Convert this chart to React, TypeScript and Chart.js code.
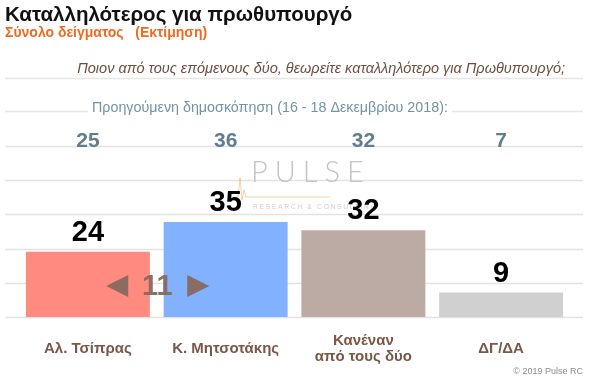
import React, { useEffect, useRef } from "react";
import { Chart, registerables } from "chart.js";

Chart.register(...registerables);

const categories: string[][] = [["Αλ. Τσίπρας"], ["Κ. Μητσοτάκης"], ["Κανέναν", "από τους δύο"], ["ΔΓ/ΔΑ"]];
const currentValues = [24, 35, 32, 9];
const previousValues = [25, 36, 32, 7];
const barColors = ["#ff8a80", "#82b1ff", "#bcaaa4", "#d0d0d0"];
const titleText = "Καταλληλότερος για πρωθυπουργό";
const subtitleText = "Σύνολο δείγματος   (Εκτίμηση)";
const questionText = "Ποιον από τους επόμενους δύο, θεωρείτε καταλληλότερο για Πρωθυπουργό;";
const previousLabel = "Προηγούμενη δημοσκόπηση (16 - 18 Δεκεμβρίου 2018):";
const copyrightText = "© 2019 Pulse RC";
const yMax = 63;
const gridCount = 5;

const FONT = '"Liberation Sans", Arial, sans-serif';

const decorPlugin = {
  id: "decor",
  beforeDatasetsDraw(chart: any) {
    const ctx = chart.ctx;
    const y = chart.scales.y;
    const L = 5, R = 583;
    ctx.save();
    ctx.strokeStyle = "#e3e3e3";
    ctx.lineWidth = 1.5;
    for (let i = 0; i <= gridCount; i++) {
      const py = Math.round(y.getPixelForValue((yMax / gridCount) * i)) + 0.5;
      ctx.beginPath();
      ctx.moveTo(L, py);
      ctx.lineTo(R, py);
      ctx.stroke();
    }
    // watermark
    ctx.fillStyle = "#c4c4c4";
    ctx.font = `300 29px Lato, ${FONT}`;
    (ctx as any).letterSpacing = "7px";
    ctx.textAlign = "left";
    ctx.textBaseline = "alphabetic";
    ctx.fillText("PULSE", 251, 182);
    ctx.font = `7px ${FONT}`;
    (ctx as any).letterSpacing = "1.5px";
    ctx.fillStyle = "#d0d0d0";
    ctx.fillText("RESEARCH & CONSULTING", 253, 209);
    (ctx as any).letterSpacing = "0px";
    ctx.strokeStyle = "rgba(245,170,90,0.55)";
    ctx.lineWidth = 1;
    ctx.beginPath();
    ctx.moveTo(233, 197);
    ctx.lineTo(238, 197);
    ctx.lineTo(240, 178);
    ctx.lineTo(242, 200);
    ctx.lineTo(244, 190);
    ctx.lineTo(246, 197);
    ctx.lineTo(330, 197);
    ctx.stroke();
    ctx.restore();
  },
  afterDraw(chart: any) {
    const ctx = chart.ctx;
    const area = chart.chartArea;
    const meta = chart.getDatasetMeta(0);
    ctx.save();
    ctx.textBaseline = "alphabetic";
    // title
    ctx.fillStyle = "#111";
    ctx.font = `bold 20.5px ${FONT}`;
    ctx.textAlign = "left";
    ctx.fillText(titleText, 5, 21);
    ctx.fillStyle = "#f06a1e";
    ctx.font = `bold 14px ${FONT}`;
    ctx.fillText(subtitleText, 5, 37);
    // question
    ctx.fillStyle = "#6e4e3e";
    ctx.font = `italic 14.5px ${FONT}`;
    ctx.textAlign = "right";
    ctx.fillText(questionText, 565, 73);
    ctx.strokeStyle = "#e6e6e6";
    ctx.lineWidth = 1.5;
    ctx.beginPath();
    ctx.moveTo(5, 78.5);
    ctx.lineTo(583, 78.5);
    ctx.stroke();
    // previous label
    ctx.fillStyle = "#7193a8";
    ctx.font = `14.3px ${FONT}`;
    ctx.textAlign = "left";
    ctx.fillText(previousLabel, 92, 112);
    const w = ctx.measureText(previousLabel).width;
    ctx.beginPath();
    ctx.moveTo(5, 111.5);
    ctx.lineTo(88, 111.5);
    ctx.moveTo(92 + w + 4, 111.5);
    ctx.lineTo(583, 111.5);
    ctx.stroke();
    // previous values & current values
    ctx.textAlign = "center";
    meta.data.forEach((bar: any, i: number) => {
      ctx.fillStyle = "#5f7e8e";
      ctx.font = `bold 21px ${FONT}`;
      ctx.fillText(String(previousValues[i]), bar.x, area.top + 1);
      ctx.fillStyle = "#000";
      ctx.font = `bold 29px ${FONT}`;
      ctx.fillText(String(currentValues[i]), bar.x, bar.y - 11);
    });
    // gap indicator between first two bars
    const b0 = meta.data[0], b1 = meta.data[1];
    const cx = (b0.x + b1.x) / 2 + 0.5;
    const cy = 286;
    const gap = currentValues[1] - currentValues[0];
    ctx.fillStyle = "rgba(135,105,92,0.95)";
    ctx.font = `bold 29px ${FONT}`;
    ctx.textBaseline = "middle";
    ctx.fillText(String(gap), cx, cy + 1);
    ctx.beginPath();
    ctx.moveTo(cx - 51, cy);
    ctx.lineTo(cx - 29, cy - 11);
    ctx.lineTo(cx - 29, cy + 11);
    ctx.closePath();
    ctx.fill();
    ctx.beginPath();
    ctx.moveTo(cx + 52, cy);
    ctx.lineTo(cx + 30, cy - 11);
    ctx.lineTo(cx + 30, cy + 11);
    ctx.closePath();
    ctx.fill();
    // copyright
    ctx.textBaseline = "alphabetic";
    ctx.textAlign = "right";
    ctx.fillStyle = "#8a8a8a";
    ctx.font = `9px ${FONT}`;
    ctx.fillText(copyrightText, 583, 374);
    ctx.restore();
  },
};

export default function App() {
  const ref = useRef<HTMLCanvasElement | null>(null);
  useEffect(() => {
    if (!ref.current) return;
    const chart = new Chart(ref.current, {
      type: "bar",
      data: {
        labels: categories,
        datasets: [
          {
            data: currentValues,
            backgroundColor: barColors,
            borderWidth: 0,
            categoryPercentage: 1,
            barPercentage: 0.9,
          },
        ],
      },
      options: {
        responsive: false,
        animation: false,
        layout: { padding: { left: 19, right: 30, top: 146, bottom: 0 } },
        plugins: { legend: { display: false }, tooltip: { enabled: false } },
        scales: {
          x: {
            grid: { display: false, drawTicks: false },
            border: { display: false },
            ticks: {
              color: "#7a5747",
              font: { family: FONT, size: 15, weight: "bold", lineHeight: 1.067 },
              padding: 24,
              crossAlign: "center",
              maxRotation: 0,
              autoSkip: false,
            },
            afterFit(scale: any) {
              scale.height = 63;
            },
          },
          y: {
            display: false,
            min: 0,
            max: yMax,
          },
        },
      },
      plugins: [decorPlugin],
    } as any);
    return () => chart.destroy();
  }, []);
  return (
    <div style={{ position: "fixed", left: 0, top: 0, width: 600, height: 380, background: "#fff" }}>
      <canvas ref={ref} width={600} height={380} style={{ width: 600, height: 380, display: "block" }} />
    </div>
  );
}
